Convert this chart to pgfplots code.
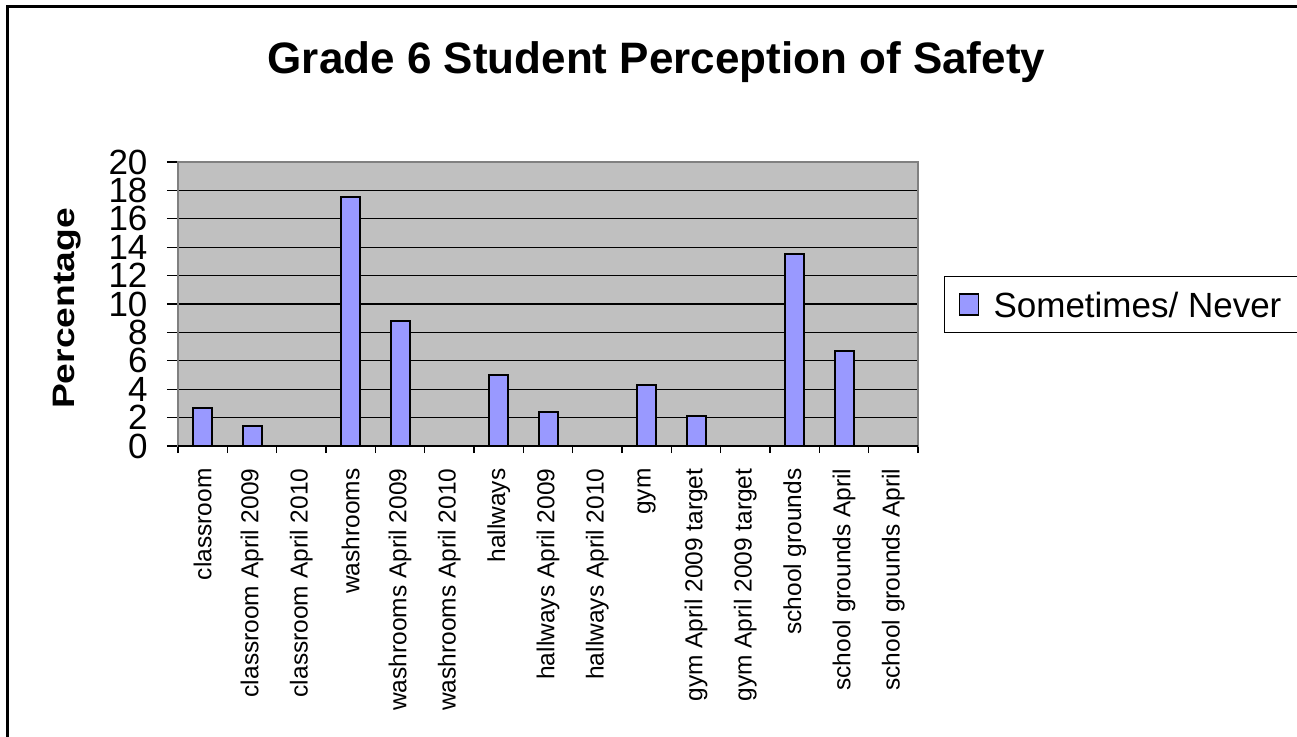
\documentclass[border=0pt]{standalone}
\usepackage{graphicx}
\usepackage{pgfplots}
\pgfplotsset{compat=1.18}
\usepackage{fontspec}
\setmainfont{Liberation Sans}
\definecolor{barblue}{HTML}{9999FF}
\definecolor{plotgray}{HTML}{C0C0C0}
\definecolor{framegray}{HTML}{808080}
\pgfplotstableread{
x val
0 2.7
1 1.4
2 0
3 17.5
4 8.8
5 0
6 5.0
7 2.4
8 0
9 4.3
10 2.1
11 0
12 13.5
13 6.7
14 0
}\datatable
\begin{document}
\begin{tikzpicture}[x=1pt,y=1pt]
\useasboundingbox (0,0) rectangle (1297,736);
\clip (0,0) rectangle (1297,736);
\draw[line width=3pt] (7,-20) -- (7,729) -- (1320,729);
\begin{axis}[
  at={(178pt,290pt)}, anchor=south west,
  scale only axis, width=740pt, height=284pt,
  xmin=-0.5, xmax=14.5, ymin=0, ymax=20,
  ytick={0,2,...,20},
  xtick={0,...,14},
  xticklabels={classroom,classroom April 2009,classroom April 2010,washrooms,washrooms April 2009,washrooms April 2010,hallways,hallways April 2009,hallways April 2010,gym,gym April 2009 target,gym April 2009 target,school grounds,school grounds April,school grounds April},
  minor xtick={-0.5,0.5,...,14.5},
  major x tick style={draw=none},
  xtick pos=bottom, ytick pos=left,
  tick align=outside,
  major tick length=11pt, minor tick length=7pt,
  tick style={black, line width=1.3pt},
  axis background/.style={fill=plotgray},
  axis line style={framegray, line width=2.5pt},
  ymajorgrids, major grid style={black, line width=1.2pt},
  /pgf/number format/assume math mode=true,
  yticklabel style={font=\fontsize{35}{35}\selectfont, xshift=-16pt},
  xticklabel style={rotate=90, anchor=east, font=\fontsize{24.5}{25}\selectfont, xshift=-8pt},
  title={Grade 6 Student Perception of Safety},
  every axis title/.style={at={(axis description cs:0.6466,1.313)}, anchor=base, font=\bfseries\fontsize{44}{44}\selectfont},
  ylabel={\scalebox{1.2}[1]{Percentage}},
  every axis y label/.style={at={(axis description cs:-0.1405,0.484)}, rotate=90, anchor=base, font=\bfseries\fontsize{31}{31}\selectfont},
  legend style={at={(axis description cs:1.035,0.599)}, anchor=north west, draw=black, line width=1.3pt, font=\fontsize{35}{35}\selectfont, inner sep=0pt, nodes={inner sep=0pt, text depth=0pt}},
  legend image code/.code={\draw[#1, line width=1.5pt] (14pt,-10.5pt) rectangle (33pt,10.5pt); \path (0pt,-27pt) (47pt,27pt);},
]
\addplot[ybar, bar width=19pt, fill=barblue, draw=black, line width=2pt] table[x=x, y=val] {\datatable};
\addlegendentry{Sometimes/ Never\rule{30pt}{0pt}}
\draw[black, line width=1.5pt] (rel axis cs:0,0) -- (rel axis cs:1,0);
\end{axis}
\end{tikzpicture}
\end{document}
